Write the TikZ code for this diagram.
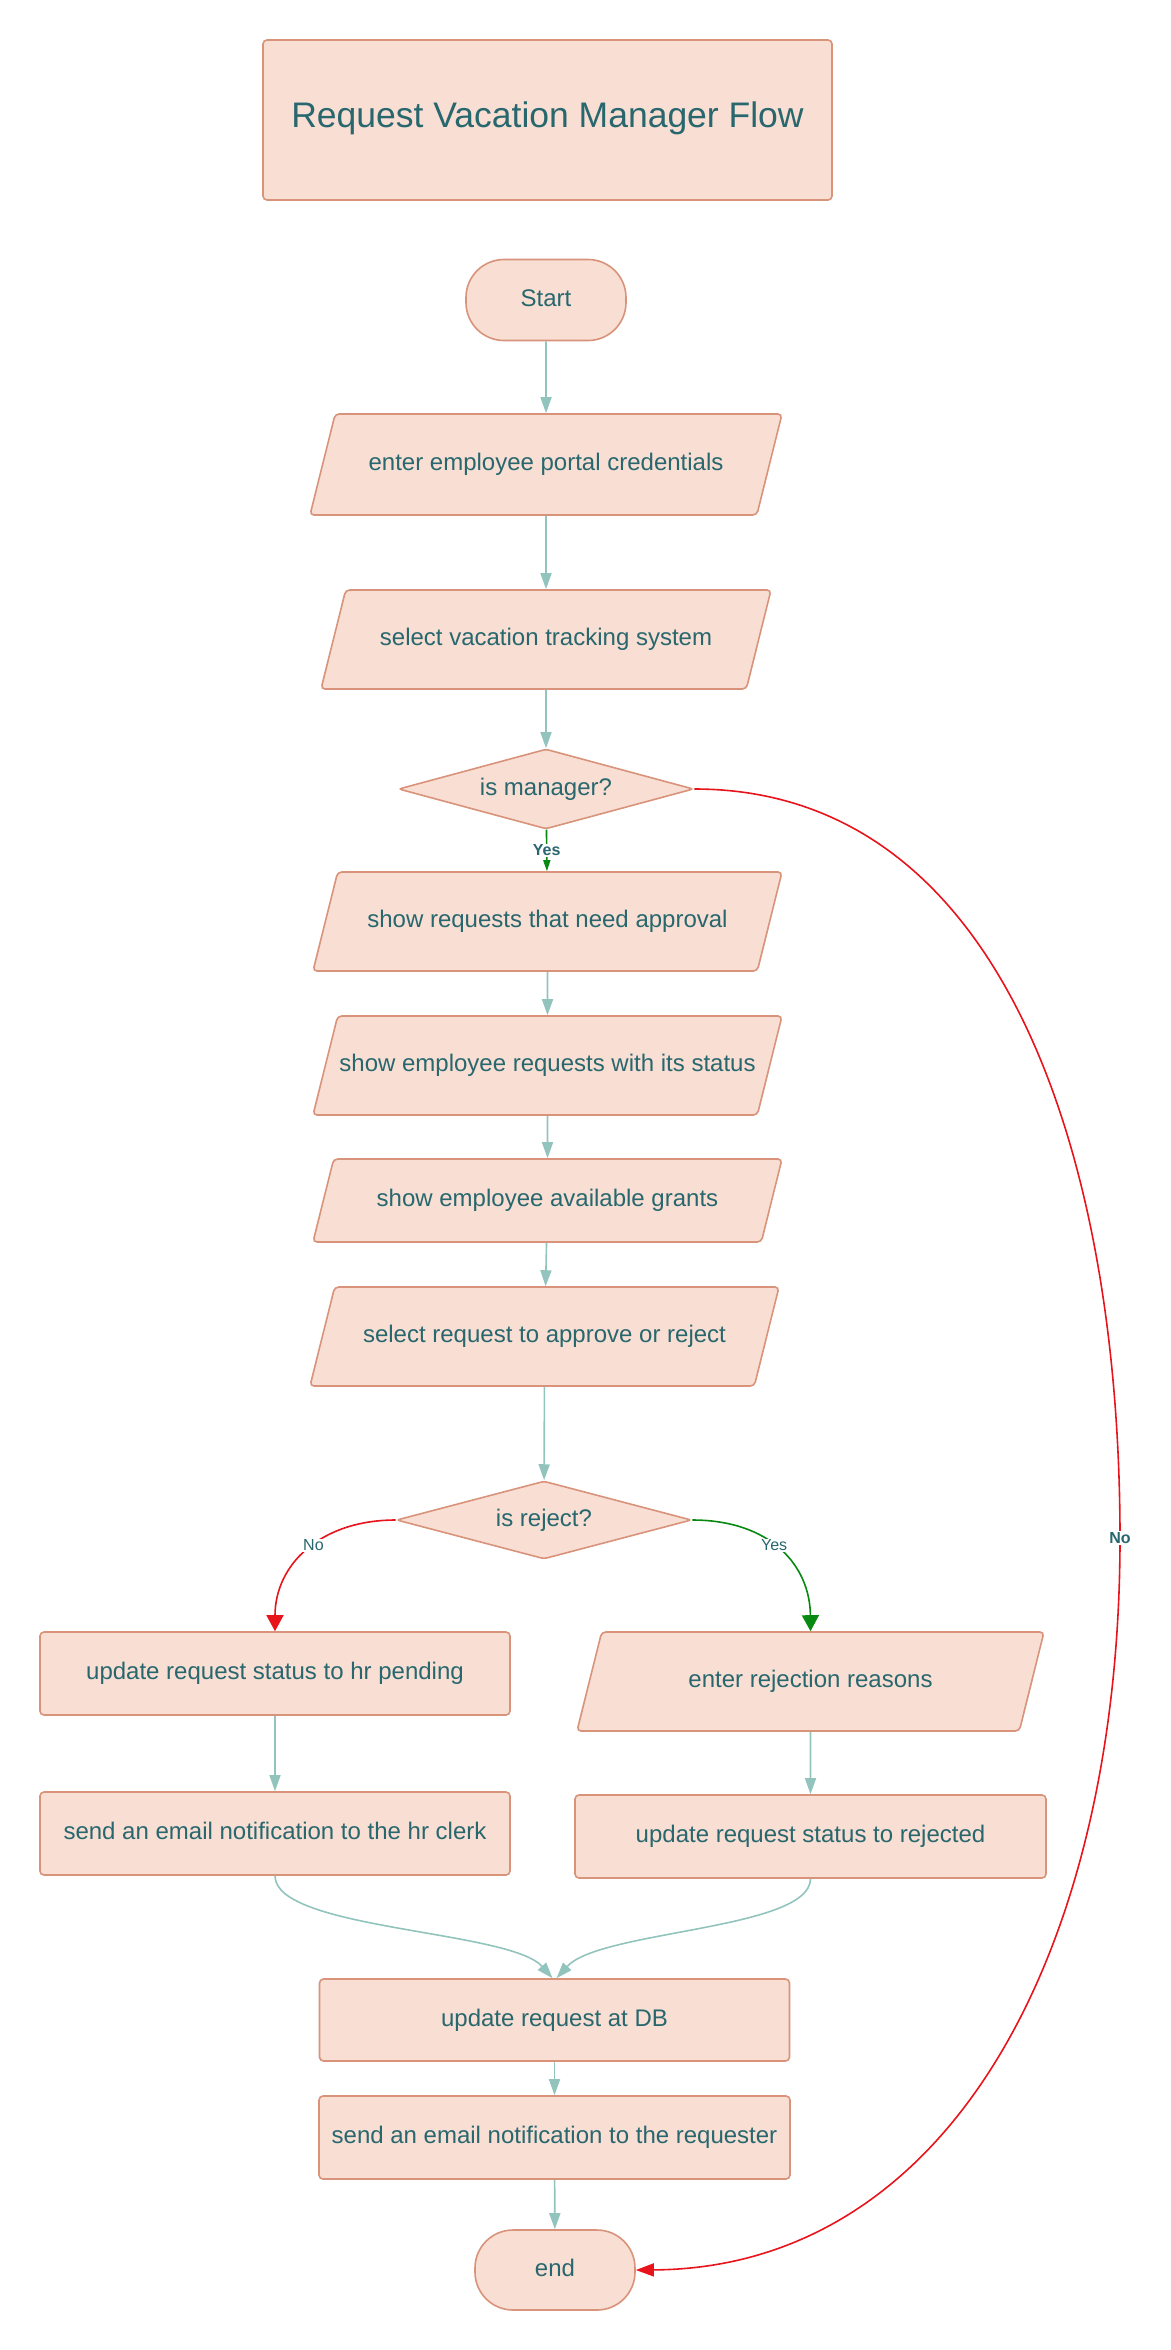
\documentclass[tikz,border=0pt]{standalone}
\usepackage{fontspec}
\setmainfont{Liberation Sans}
\usetikzlibrary{shapes.geometric,arrows.meta}
\definecolor{boxfill}{HTML}{F8DED3}
\definecolor{boxline}{HTML}{D8937A}
\definecolor{ink}{HTML}{28676E}
\definecolor{flow}{HTML}{92C4BD}
\definecolor{nored}{HTML}{E8141B}
\definecolor{yesgreen}{HTML}{088A12}

\begin{document}
\begin{tikzpicture}[x=1pt,y=-1pt,
    base/.style={draw=boxline,fill=boxfill,line width=1.6pt,text=ink,inner sep=0pt,
        text height=18pt,text depth=6pt,font=\fontsize{24}{28}\selectfont},
    proc/.style={base,rectangle,rounded corners=4pt,minimum width=470pt,minimum height=83pt},
    io/.style={base,trapezium,trapezium left angle=76,trapezium right angle=104,
        trapezium stretches body=true,rounded corners=4pt,minimum width=470pt,inner ysep=37.5pt},
    term/.style={base,rectangle,rounded corners=38pt,minimum width=160pt,minimum height=81pt},
    choice/.style={base,diamond,aspect=4,rounded corners=3pt,minimum width=295pt,minimum height=80pt},
    flowarr/.style={draw=flow,line width=1.6pt,-{Triangle[length=16pt,width=11pt]}},
    noarr/.style={draw=nored,line width=1.6pt,-{Triangle[length=16pt,width=17pt]}},
    yesarr/.style={draw=yesgreen,line width=1.6pt,-{Triangle[length=16pt,width=17pt]}},
    lbl/.style={fill=white,text=ink,inner sep=1pt,font=\fontsize{16}{18}\selectfont},
    blbl/.style={lbl,font=\fontsize{16}{18}\selectfont\bfseries}]
    \useasboundingbox (0,0) rectangle (1170,2350);

    \node[proc,minimum width=569pt,minimum height=160pt,text height=26pt,text depth=12pt,
        font=\fontsize{35.5}{40}\selectfont] (title) at (547.5,120) {Request Vacation Manager Flow};
    \node[term] (start) at (546,300) {Start};
    \node[io,minimum width=472pt,inner ysep=38.5pt] (creds) at (546,464.5) {enter employee portal credentials};
    \node[io,minimum width=450pt] (system) at (546,639.5) {select vacation tracking system};
    \node[choice] (mgr) at (546,789) {is manager?};
    \node[io,minimum width=469pt] (approval) at (547.5,921.5) {show requests that need approval};
    \node[io,minimum width=469pt] (status) at (547.5,1065.5) {show employee requests with its status};
    \node[io,minimum width=469pt,inner ysep=29.5pt] (grants) at (547.5,1200.5) {show employee available grants};
    \node[io,minimum width=469pt] (choose) at (544.5,1336.5) {select request to approve or reject};
    \node[choice,minimum height=78pt] (rej) at (544,1520) {is reject?};
    \node[proc] (pend) at (275,1673.5) {update request status to hr pending};
    \node[proc] (clerk) at (275,1833.5) {send an email notification to the hr clerk};
    \node[io,minimum width=467pt] (reasons) at (810.5,1681.5) {enter rejection reasons};
    \node[proc,minimum width=471pt] (rejected) at (810.5,1836.5) {update request status to rejected};
    \node[proc,minimum height=82pt] (db) at (554.5,2020) {update request at DB};
    \node[proc,minimum width=471pt] (notify) at (554.5,2137.5) {send an email notification to the requester};
    \node[term,minimum height=80pt] (end) at (555,2270) {end};

    \draw[flowarr] (start) -- (creds);
    \draw[flowarr] (creds) -- (system);
    \draw[flowarr] (system) -- (mgr);
    \draw[draw=yesgreen,line width=1.6pt,-{Triangle[length=11pt,width=7pt]}] (mgr) -- node[blbl] {Yes} (approval);
    \draw[flowarr] (approval) -- (status);
    \draw[flowarr] (status) -- (grants);
    \draw[flowarr] (grants) -- (choose);
    \draw[flowarr] (choose) -- (rej);
    \draw[noarr] (rej.west) .. controls (320,1520) and (275,1565) .. node[lbl,pos=0.45] {No} (pend.north);
    \draw[yesarr] (rej.east) .. controls (770,1520) and (810,1565) .. node[lbl,pos=0.45] {Yes} (reasons.north);
    \draw[flowarr] (pend) -- (clerk);
    \draw[flowarr] (reasons) -- (rejected);
    \draw[flowarr] (clerk.south) .. controls (275,1930) and (510,1930) .. ([xshift=-2pt]db.north);
    \draw[flowarr] (rejected.south) .. controls (810,1930) and (600,1930) .. ([xshift=2pt]db.north);
    \draw[flowarr] (db) -- (notify);
    \draw[flowarr] (notify) -- (end);
    \draw[noarr,-{Triangle[length=18pt,width=13pt]}] (mgr.east) .. controls (1000,789) and (1120,1150) .. (1120,1538)
        node[blbl] {No} .. controls (1120,1950) and (950,2268) .. (end.east);
\end{tikzpicture}
\end{document}
